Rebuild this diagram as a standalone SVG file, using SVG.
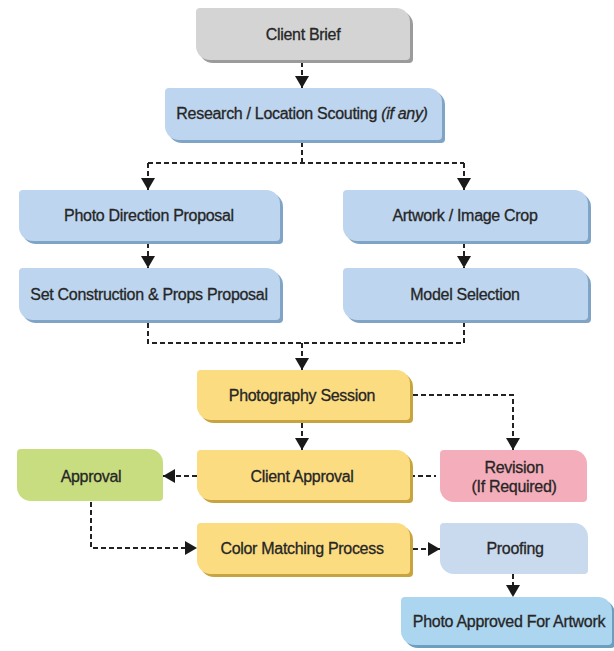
<svg xmlns="http://www.w3.org/2000/svg" width="614" height="651" viewBox="0 0 614 651">
<defs>
<marker id="ah" markerUnits="userSpaceOnUse" markerWidth="13" markerHeight="14" refX="12" refY="7" orient="auto">
<path d="M0,0 L12,7 L0,14 Z" fill="#1a1a1a"/>
</marker>
<style>
text{font-family:"Liberation Sans",Arial,sans-serif;font-size:16px;fill:#262626;stroke:#262626;stroke-width:0.3px;text-anchor:middle;letter-spacing:-0.3px}
.cn{fill:none;stroke:#222;stroke-width:2;stroke-dasharray:5 3}
.gray{fill:#d4d4d4}.grayS{fill:#9b9b9b}
.blue{fill:#bdd5ee}.blueS{fill:#7fa4c6}
.yel{fill:#fcdc80}.yelS{fill:#c8a441}
.grn{fill:#c8dc80}
.pink{fill:#f4adba}
.proof{fill:#c9d9ee}
.pa{fill:#acd5ef}.paS{fill:#6e9ebf}
</style>
</defs>
<rect width="614" height="651" fill="#ffffff"/>

<g id="connectors">
<path class="cn" d="M302,62 V88" marker-end="url(#ah)"/>
<path class="cn" d="M302,142 V163 M148,163 H464"/>
<path class="cn" d="M148,163 V190" marker-end="url(#ah)"/>
<path class="cn" d="M464,163 V190" marker-end="url(#ah)"/>
<path class="cn" d="M148,243 V268" marker-end="url(#ah)"/>
<path class="cn" d="M464,243 V268" marker-end="url(#ah)"/>
<path class="cn" d="M148,323 V343 H464 V323"/>
<path class="cn" d="M302,343 V370" marker-end="url(#ah)"/>
<path class="cn" d="M302,423 V450" marker-end="url(#ah)"/>
<path class="cn" d="M413,395 H513 V450" marker-end="url(#ah)"/>
<path class="cn" d="M197,476 H163" marker-end="url(#ah)"/>
<path class="cn" d="M410,476 H436"/>
<path class="cn" d="M91,502 V548 H197" marker-end="url(#ah)"/>
<path class="cn" d="M413,549 H440" marker-end="url(#ah)"/>
<path class="cn" d="M513,574 V597" marker-end="url(#ah)"/>
</g>

<g id="client-brief">
<path class="grayS" transform="translate(3,3)" d="M200,8 H396 A14,14 0 0 1 410,22 V56 A4,4 0 0 1 406,60 H210 A14,14 0 0 1 196,46 V12 A4,4 0 0 1 200,8 Z"/>
<path class="gray" d="M200,8 H396 A14,14 0 0 1 410,22 V56 A4,4 0 0 1 406,60 H210 A14,14 0 0 1 196,46 V12 A4,4 0 0 1 200,8 Z"/>
<text x="303" y="40">Client Brief</text>
</g>

<g id="research">
<path class="blueS" transform="translate(3,3)" d="M169,88 H428 A14,14 0 0 1 442,102 V136 A4,4 0 0 1 438,140 H179 A14,14 0 0 1 165,126 V92 A4,4 0 0 1 169,88 Z"/>
<path class="blue" d="M169,88 H428 A14,14 0 0 1 442,102 V136 A4,4 0 0 1 438,140 H179 A14,14 0 0 1 165,126 V92 A4,4 0 0 1 169,88 Z"/>
<text x="302" y="119">Research / Location Scouting <tspan font-style="italic">(if any)</tspan></text>
</g>

<g id="photo-direction">
<path class="blueS" transform="translate(3,3)" d="M23,190 H266 A14,14 0 0 1 280,204 V237 A4,4 0 0 1 276,241 H33 A14,14 0 0 1 19,227 V194 A4,4 0 0 1 23,190 Z"/>
<path class="blue" d="M23,190 H266 A14,14 0 0 1 280,204 V237 A4,4 0 0 1 276,241 H33 A14,14 0 0 1 19,227 V194 A4,4 0 0 1 23,190 Z"/>
<text x="149" y="221">Photo Direction Proposal</text>
</g>

<g id="artwork">
<path class="blueS" transform="translate(3,3)" d="M347,190 H574 A14,14 0 0 1 588,204 V237 A4,4 0 0 1 584,241 H357 A14,14 0 0 1 343,227 V194 A4,4 0 0 1 347,190 Z"/>
<path class="blue" d="M347,190 H574 A14,14 0 0 1 588,204 V237 A4,4 0 0 1 584,241 H357 A14,14 0 0 1 343,227 V194 A4,4 0 0 1 347,190 Z"/>
<text x="465" y="221">Artwork / Image Crop</text>
</g>

<g id="set-construction">
<path class="blueS" transform="translate(3,3)" d="M23,268 H266 A14,14 0 0 1 280,282 V316 A4,4 0 0 1 276,320 H33 A14,14 0 0 1 19,306 V272 A4,4 0 0 1 23,268 Z"/>
<path class="blue" d="M23,268 H266 A14,14 0 0 1 280,282 V316 A4,4 0 0 1 276,320 H33 A14,14 0 0 1 19,306 V272 A4,4 0 0 1 23,268 Z"/>
<text x="149" y="300">Set Construction &amp; Props Proposal</text>
</g>

<g id="model-selection">
<path class="blueS" transform="translate(3,3)" d="M347,268 H574 A14,14 0 0 1 588,282 V316 A4,4 0 0 1 584,320 H357 A14,14 0 0 1 343,306 V272 A4,4 0 0 1 347,268 Z"/>
<path class="blue" d="M347,268 H574 A14,14 0 0 1 588,282 V316 A4,4 0 0 1 584,320 H357 A14,14 0 0 1 343,306 V272 A4,4 0 0 1 347,268 Z"/>
<text x="465" y="300">Model Selection</text>
</g>

<g id="photography-session">
<path class="yelS" transform="translate(3,3)" d="M201,370 H396 A14,14 0 0 1 410,384 V416 A4,4 0 0 1 406,420 H211 A14,14 0 0 1 197,406 V374 A4,4 0 0 1 201,370 Z"/>
<path class="yel" d="M201,370 H396 A14,14 0 0 1 410,384 V416 A4,4 0 0 1 406,420 H211 A14,14 0 0 1 197,406 V374 A4,4 0 0 1 201,370 Z"/>
<text x="302" y="401">Photography Session</text>
</g>

<g id="client-approval">
<path class="yelS" transform="translate(3,3)" d="M201,450 H396 A14,14 0 0 1 410,464 V496 A4,4 0 0 1 406,500 H211 A14,14 0 0 1 197,486 V454 A4,4 0 0 1 201,450 Z"/>
<path class="yel" d="M201,450 H396 A14,14 0 0 1 410,464 V496 A4,4 0 0 1 406,500 H211 A14,14 0 0 1 197,486 V454 A4,4 0 0 1 201,450 Z"/>
<text x="302" y="482">Client Approval</text>
</g>

<g id="approval">
<path class="grn" d="M21,449 H149 A14,14 0 0 1 163,463 V497 A4,4 0 0 1 159,501 H31 A14,14 0 0 1 17,487 V453 A4,4 0 0 1 21,449 Z"/>
<text x="91" y="482">Approval</text>
</g>

<g id="revision">
<path class="pink" d="M444,450 H573 A14,14 0 0 1 587,464 V498 A4,4 0 0 1 583,502 H454 A14,14 0 0 1 440,488 V454 A4,4 0 0 1 444,450 Z"/>
<text x="514" y="473">Revision</text>
<text x="514" y="492">(If Required)</text>
</g>

<g id="color-matching">
<path class="yelS" transform="translate(3,3)" d="M201,523 H396 A14,14 0 0 1 410,537 V570 A4,4 0 0 1 406,574 H211 A14,14 0 0 1 197,560 V527 A4,4 0 0 1 201,523 Z"/>
<path class="yel" d="M201,523 H396 A14,14 0 0 1 410,537 V570 A4,4 0 0 1 406,574 H211 A14,14 0 0 1 197,560 V527 A4,4 0 0 1 201,523 Z"/>
<text x="302" y="554">Color Matching Process</text>
</g>

<g id="proofing">
<path class="proof" d="M444,523 H574 A14,14 0 0 1 588,537 V570 A4,4 0 0 1 584,574 H454 A14,14 0 0 1 440,560 V527 A4,4 0 0 1 444,523 Z"/>
<text x="515" y="554">Proofing</text>
</g>

<g id="photo-approved">
<path class="paS" transform="translate(3,3)" d="M405,597 H598 A14,14 0 0 1 612,611 V641 A4,4 0 0 1 608,645 H415 A14,14 0 0 1 401,631 V601 A4,4 0 0 1 405,597 Z"/>
<path class="pa" d="M405,597 H598 A14,14 0 0 1 612,611 V641 A4,4 0 0 1 608,645 H415 A14,14 0 0 1 401,631 V601 A4,4 0 0 1 405,597 Z"/>
<text x="509" y="627">Photo Approved For Artwork</text>
</g>
</svg>
